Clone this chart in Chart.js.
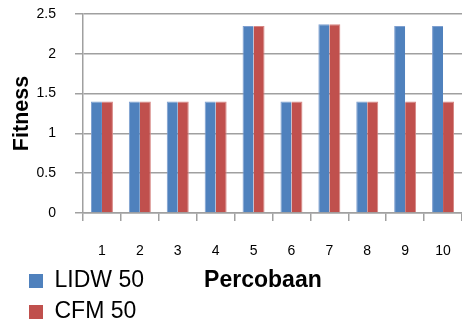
<!DOCTYPE html>
<html>
<head>
<meta charset="utf-8">
<script src="https://cdn.jsdelivr.net/npm/chart.js@4/dist/chart.umd.min.js"></script>
<style>
  html, body { margin: 0; padding: 0; background: #ffffff; }
  #wrap { width: 462px; height: 322px; position: relative; }
</style>
</head>
<body>
<div id="wrap"><canvas id="chart"></canvas></div>
<script>
// Trial numbers (x categories)
const percobaan = ['1', '2', '3', '4', '5', '6', '7', '8', '9', '10'];
// Fitness per trial for each method
const lidw50 = [1.4, 1.4, 1.4, 1.4, 2.35, 1.4, 2.37, 1.4, 2.35, 2.35];
const cfm50  = [1.4, 1.4, 1.4, 1.4, 2.35, 1.4, 2.37, 1.4, 1.4, 1.4];
// Value axis ticks and their labels
const fitnessTicks  = [0, 0.5, 1, 1.5, 2, 2.5];
const fitnessLabels = ['0', '0.5', '1', '1.5', '2', '2.5'];

const FONT = "'Liberation Sans', Arial, sans-serif";
const GRID = '#a0a0a0';
const LEGEND_WIDTH = 150;
const LEGEND_ROWS = 2;

// Stack the legend entries in a narrow column under the axis.
const legendColumn = {
  id: 'legendColumn',
  afterLayout(chart) {
    const lg = chart.legend;
    if (!lg) return;
    const rowHeight = lg.options.labels.font.size + lg.options.labels.padding;
    lg.right = lg.left + LEGEND_WIDTH;
    lg.width = LEGEND_WIDTH;
    lg.height = rowHeight * LEGEND_ROWS + 10;
    lg.bottom = lg.top + lg.height;
  }
};

new Chart(document.getElementById('chart'), {
  type: 'bar',
  data: {
    labels: percobaan,
    datasets: [
      {
        label: 'LIDW 50',
        data: lidw50,
        backgroundColor: '#4f81bd',
        borderColor: '#7e9fd0',
        borderWidth: { top: 1, left: 1, right: 0, bottom: 0 },
        borderSkipped: false,
        categoryPercentage: 0.58,
        barPercentage: 1.0
      },
      {
        label: 'CFM 50',
        data: cfm50,
        backgroundColor: '#c0504d',
        borderColor: '#d68683',
        borderWidth: { top: 1, left: 0, right: 1, bottom: 0 },
        borderSkipped: false,
        categoryPercentage: 0.58,
        barPercentage: 1.0
      }
    ]
  },
  options: {
    responsive: true,
    maintainAspectRatio: false,
    animation: false,
    devicePixelRatio: 1,
    layout: { padding: { top: 14, right: 0, bottom: 19.5, left: 21 } },
    plugins: {
      tooltip: { enabled: false },
      legend: {
        display: true,
        position: 'bottom',
        align: 'start',
        labels: {
          boxWidth: 14,
          boxHeight: 14,
          padding: 8,
          color: '#000000',
          font: { family: FONT, size: 23 },
          generateLabels(chart) {
            return chart.data.datasets.map((ds, i) => ({
              text: ds.label,
              fillStyle: ds.backgroundColor,
              strokeStyle: ds.backgroundColor,
              lineWidth: 0,
              hidden: !chart.isDatasetVisible(i),
              datasetIndex: i
            }));
          }
        }
      }
    },
    scales: {
      x: {
        offset: true,
        grid: {
          display: true,
          drawOnChartArea: false,
          drawTicks: true,
          tickLength: 8,
          offset: true,
          color: GRID,
          lineWidth: 1.5
        },
        border: { display: true, color: GRID, width: 1.5 },
        ticks: {
          color: '#000000',
          padding: 22,
          font: { family: FONT, size: 14 },
          maxRotation: 0
        },
        title: {
          display: true,
          // trailing no-break spaces nudge the centred title a little to the left
          text: 'Percobaan\u00a0\u00a0\u00a0',
          color: '#000000',
          font: { family: FONT, size: 23, weight: 'bold' },
          padding: { top: 0, bottom: -33 }
        },
        afterFit(scale) {
          scale.height = 48.5;
          scale.paddingLeft = 0;
          scale.paddingRight = 0;
        }
      },
      y: {
        min: 0,
        max: 2.5,
        afterBuildTicks(scale) {
          scale.ticks = fitnessTicks.map(v => ({ value: v }));
        },
        grid: {
          color: GRID,
          lineWidth: 1.5,
          drawTicks: true,
          tickLength: 8
        },
        border: { display: true, color: GRID, width: 1.5 },
        ticks: {
          color: '#000000',
          padding: 19,
          font: { family: FONT, size: 14 },
          callback(value) {
            const i = fitnessTicks.indexOf(value);
            return i >= 0 ? fitnessLabels[i] : '';
          }
        },
        title: {
          display: true,
          text: 'Fitness',
          color: '#000000',
          font: { family: FONT, size: 21.5, weight: 'bold' },
          padding: { top: -12, bottom: 0 }
        },
        afterFit(scale) {
          scale.width = 62;
          scale.paddingTop = 0;
          scale.paddingBottom = 0;
        }
      }
    }
  },
  plugins: [legendColumn]
});
</script>
</body>
</html>
